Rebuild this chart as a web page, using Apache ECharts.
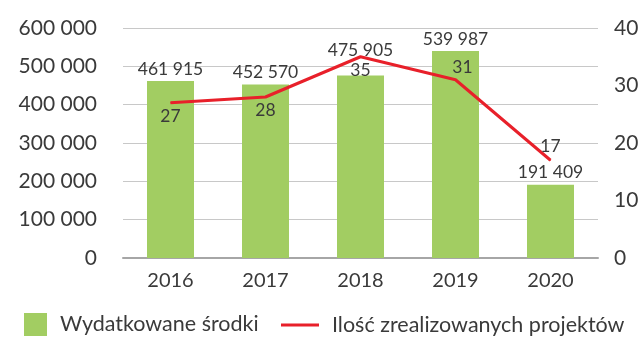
<!DOCTYPE html>
<html>
<head>
<meta charset="utf-8">
<script src="https://cdn.jsdelivr.net/npm/echarts@6/dist/echarts.min.js"></script>
<style>
  html, body { margin: 0; padding: 0; background: #ffffff; }
  #chart { width: 642px; height: 338px; }
</style>
</head>
<body>
<div id="chart"></div>
<script>
// Years, spending and number of completed projects
const years = ['2016', '2017', '2018', '2019', '2020'];
const spending = [461915, 452570, 475905, 539987, 191409];
const projects = [27, 28, 35, 31, 17];
const spendingName = 'Wydatkowane środki';
const projectsName = 'Ilość zrealizowanych projektów';

const FONT = 'Lato';
const TEXT = '#3a3a3a';
const GREEN = '#a2cd62';
const RED = '#e8202a';

// thousands separated with a space: 461915 -> "461 915"
function fmt(v) {
  return String(v).replace(/\B(?=(\d{3})+(?!\d))/g, ' ');
}

// the 2018 bar label is lifted above the line point
const barData = spending.map((v, i) => (
  i === 2 ? { value: v, label: { offset: [0, -13] } } : v
));

// line labels: below the point for the first three, above for the rest
const lineData = projects.map((v, i) => {
  if (i <= 2) return { value: v, label: { position: 'bottom', distance: 4 } };
  if (i === 3) return { value: v, label: { position: 'top', distance: 3, offset: [7, 0] } };
  return { value: v, label: { position: 'top', distance: 4 } };
});

const legendText = { fontFamily: FONT, fontSize: 21.5, color: TEXT, padding: [0, 0, 0, 8] };

const chart = echarts.init(document.getElementById('chart'), null, { renderer: 'canvas' });
chart.setOption({
  animation: false,
  textStyle: { fontFamily: FONT, color: TEXT },
  grid: { left: 123, right: 44, top: 28, bottom: 80 },
  legend: [
    {
      left: 24, top: 313, padding: 0,
      itemWidth: 23, itemHeight: 23,
      icon: 'rect',
      textStyle: legendText,
      data: [spendingName]
    },
    {
      left: 281, top: 314, padding: 0,
      itemWidth: 38, itemHeight: 3,
      icon: 'rect',
      textStyle: legendText,
      data: [projectsName]
    }
  ],
  xAxis: {
    type: 'category',
    data: years,
    axisTick: { show: false },
    axisLine: { lineStyle: { color: '#a6a6a6', width: 2 } },
    axisLabel: { fontFamily: FONT, fontSize: 20, color: TEXT, margin: 13 }
  },
  yAxis: [
    {
      type: 'value',
      min: 0, max: 600000, interval: 100000,
      axisLine: { show: false },
      axisTick: { show: false },
      splitLine: { lineStyle: { color: '#c8c8c8', width: 1 } },
      axisLabel: { fontFamily: FONT, fontSize: 21, color: TEXT, margin: 26, formatter: fmt }
    },
    {
      type: 'value',
      min: 0, max: 40, interval: 10,
      position: 'right',
      axisLine: { show: false },
      axisTick: { show: false },
      splitLine: { show: false },
      axisLabel: { fontFamily: FONT, fontSize: 21, color: TEXT, margin: 16 }
    }
  ],
  series: [
    {
      name: spendingName,
      type: 'bar',
      data: barData,
      barWidth: 47,
      itemStyle: { color: GREEN },
      label: {
        show: true,
        position: 'top',
        distance: 3,
        fontFamily: FONT,
        fontSize: 17.5,
        color: TEXT,
        formatter: p => fmt(p.value)
      }
    },
    {
      name: projectsName,
      type: 'line',
      yAxisIndex: 1,
      data: lineData,
      symbol: 'circle',
      symbolSize: 1,
      showSymbol: true,
      lineStyle: { color: RED, width: 3 },
      itemStyle: { color: RED },
      z: 3,
      label: {
        show: true,
        fontFamily: FONT,
        fontSize: 17.5,
        color: TEXT
      }
    }
  ]
});
</script>
</body>
</html>
